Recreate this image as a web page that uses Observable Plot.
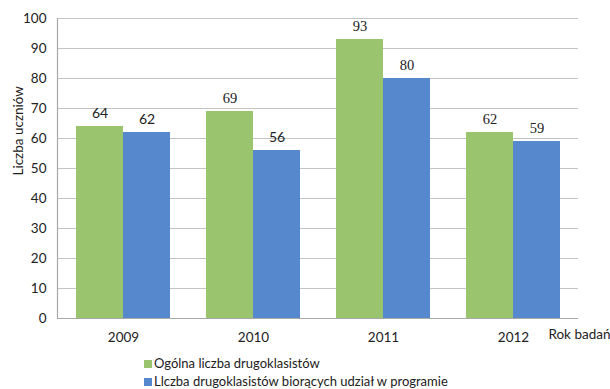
<!DOCTYPE html>
<html><head><meta charset="utf-8">
<script src="https://cdn.jsdelivr.net/npm/d3@7"></script>
<script src="https://cdn.jsdelivr.net/npm/@observablehq/plot@0.6"></script>
<style>
body{margin:0;background:#fff;font-family:Lato,"Noto Sans",sans-serif;overflow:hidden;}
#chart{width:610px;}
.legend{margin-left:144px;margin-top:4px;font-size:13px;color:#222;line-height:18px;}
.legend span.sw{display:inline-block;width:8px;height:8px;margin-right:2px;vertical-align:0px;}
</style>
</head><body>
<div id="chart"></div>
<script>
const years = ["2009", "2010", "2011", "2012"];
const totalStudents = [64, 69, 93, 62];
const programStudents = [62, 56, 80, 59];
const seriesNames = ["Ogólna liczba drugoklasistów", "Llczba drugoklasistów biorących udział w programie"];
const yTicks = [0, 10, 20, 30, 40, 50, 60, 70, 80, 90, 100];
const xTitle = "Rok badań";
const yTitle = "Liczba uczniów";

const colors = ["#9BC46E", "#5588CC"];
const green = years.map((y, i) => ({year: y, value: totalStudents[i], s: 0}));
const blue = years.map((y, i) => ({year: y, value: programStudents[i], s: 1}));
const sansLabels = new Set(["2009-0", "2009-1", "2010-1"]);
const isSans = d => sansLabels.has(d.year + "-" + d.s);

function labels(data, dx, sans) {
  return Plot.text(data.filter(d => isSans(d) === sans), {
    x: "year", y: "value", text: d => String(d.value), dx, dy: -13,
    fontSize: sans ? 14 : 14.5, fill: "#222",
    fontFamily: sans ? "Lato, sans-serif" : "'Liberation Serif', serif"
  });
}

const plot = Plot.plot({
  width: 610, height: 350,
  marginTop: 18, marginBottom: 32, marginLeft: 57, marginRight: 32,
  style: {fontFamily: "Lato, sans-serif", fontSize: "13.5px", color: "#222", background: "#fff"},
  x: {domain: years, padding: 0, label: null, tickSize: 0, tickPadding: 14},
  y: {domain: [0, 100], ticks: yTicks, label: null, tickSize: 0, tickPadding: 11},
  marks: [
    Plot.gridY(yTicks, {stroke: "#c4c4c4", strokeOpacity: 1, strokeWidth: 1.2}),
    Plot.barY(green, {x: "year", y: "value", fill: colors[0], insetLeft: 18, insetRight: 65}),
    Plot.barY(blue, {x: "year", y: "value", fill: colors[1], insetLeft: 65, insetRight: 18}),
    labels(green, -23.5, true),
    labels(green, -23.5, false),
    labels(blue, 23.5, true),
    labels(blue, 23.5, false),
    Plot.ruleY([0], {stroke: "#a8a8a8", strokeWidth: 1.2}),
    Plot.frame({anchor: "left", stroke: "#a8a8a8", strokeWidth: 1.2}),
    Plot.text([xTitle], {frameAnchor: "bottom-right", dx: 32, dy: 20, textAnchor: "end", fontSize: 13.5, fill: "#222"}),
    Plot.text([yTitle], {frameAnchor: "left", dx: -39, dy: 7, rotate: -90, fontSize: 13.5, fill: "#222"})
  ]
});
const chart = document.getElementById("chart");
chart.appendChild(plot);
const legend = document.createElement("div");
legend.className = "legend";
seriesNames.forEach((name, i) => {
  const row = document.createElement("div");
  const sw = document.createElement("span");
  sw.className = "sw";
  sw.style.background = colors[i];
  row.appendChild(sw);
  row.appendChild(document.createTextNode(name));
  legend.appendChild(row);
});
chart.appendChild(legend);
</script>
</body></html>
